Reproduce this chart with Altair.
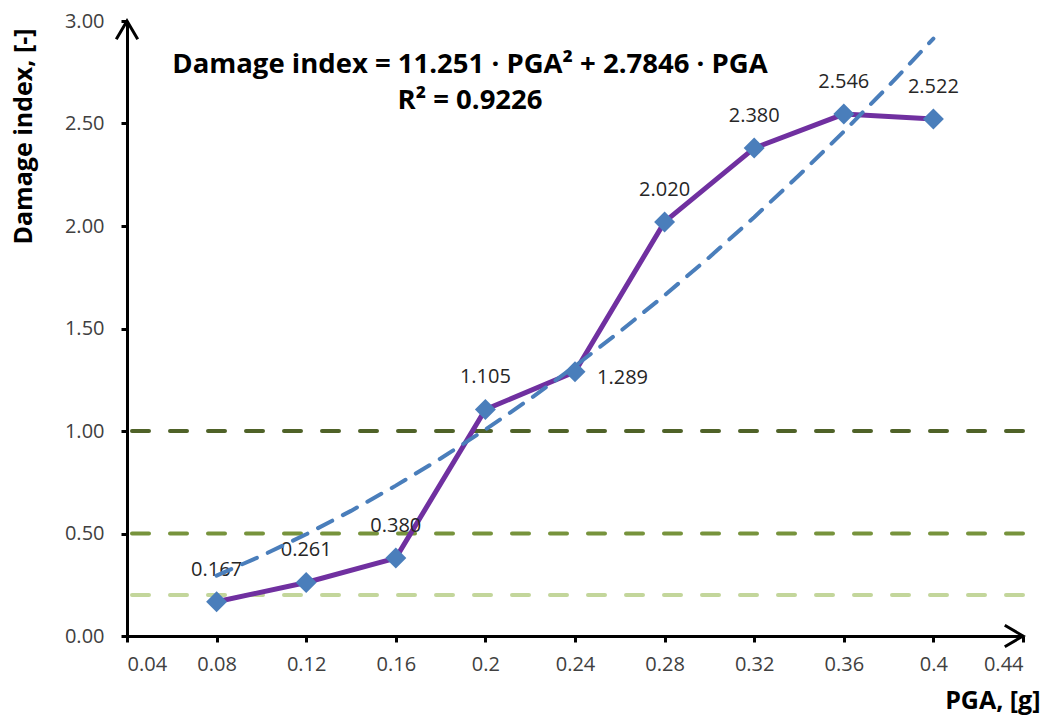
import altair as alt
import pandas as pd

pga = [0.08, 0.12, 0.16, 0.20, 0.24, 0.28, 0.32, 0.36, 0.40]
damage = [0.167, 0.261, 0.380, 1.105, 1.289, 2.020, 2.380, 2.546, 2.522]
labels = ["0.167", "0.261", "0.380", "1.105", "1.289", "2.020", "2.380", "2.546", "2.522"]

trend_a = 11.251
trend_b = 2.7846
trend_x = [0.08, 0.10, 0.12, 0.14, 0.16, 0.18, 0.20, 0.22, 0.24, 0.26, 0.28, 0.30, 0.32, 0.34, 0.36, 0.38, 0.40]

limit_values = [1.0, 0.5, 0.2]
limit_colors = ["#4F6228", "#77933C", "#C3D69B"]

x_ticks = [0.04, 0.08, 0.12, 0.16, 0.20, 0.24, 0.28, 0.32, 0.36, 0.40, 0.44]
y_ticks = [0.0, 0.5, 1.0, 1.5, 2.0, 2.5, 3.0]

FONT = "Open Sans"

df = pd.DataFrame({"pga": pga, "di": damage, "label": labels})
trend_df = pd.DataFrame({"pga": trend_x, "di": [trend_a * x * x + trend_b * x for x in trend_x]})
lim_df = pd.DataFrame({"v": limit_values, "c": limit_colors})

xs = alt.Scale(domain=[0.04, 0.44], nice=False, zero=False)
ys = alt.Scale(domain=[0, 3], nice=False)

x_axis = alt.Axis(values=x_ticks, format=".2~f", title="PGA, [g]", titleX=913, titleY=64,
                  titleAlign="right", titleBaseline="middle", titleAnchor="start", labelPadding=12)
y_axis = alt.Axis(values=y_ticks, format=".2f", title="Damage index, [-]", titleX=-104, titleY=115,
                  titleAngle=-90, titleAlign="center", titleBaseline="middle", titleAnchor="start",
                  labelPadding=17)

X = alt.X("pga:Q", scale=xs, axis=x_axis)
Y = alt.Y("di:Q", scale=ys, axis=y_axis)

base = alt.Chart(df)

rules = alt.Chart(lim_df).mark_rule(strokeWidth=4, strokeDash=[17, 21], strokeCap="round").encode(
    y=alt.Y("v:Q", scale=ys, axis=y_axis),
    color=alt.Color("c:N", scale=None, legend=None),
)

line = base.mark_line(color="#7030A0", strokeWidth=5).encode(x=X, y=Y)

pts = base.mark_point(shape="diamond", filled=True, size=440, color="#4A7EBB", opacity=1).encode(x=X, y=Y)

lbl_above = base.transform_filter("datum.pga < 0.235 || datum.pga > 0.245").mark_text(
    font=FONT, fontSize=20, color="#262626", dy=-32, align="center", baseline="middle"
).encode(x=X, y=Y, text="label:N")

lbl_right = base.transform_filter("datum.pga > 0.235 && datum.pga < 0.245").mark_text(
    font=FONT, fontSize=20, color="#262626", dx=22, dy=6, align="left", baseline="middle"
).encode(x=X, y=Y, text="label:N")

trend = alt.Chart(trend_df).mark_line(color="#4A7EBB", strokeWidth=4, strokeDash=[16, 12],
                                      strokeCap="round").encode(x=X, y=Y)

arrow_df = pd.DataFrame({"pga": [0.04, 0.44], "di": [3.0, 0.0], "dir": ["up", "right"]})
arrow_up = alt.Chart(arrow_df).transform_filter("datum.dir == 'up'").mark_point(
    shape="M-1,1.7L0,0L1,1.7", filled=False, stroke="black", strokeWidth=3, size=460, opacity=1
).encode(x=X, y=Y)
arrow_right = alt.Chart(arrow_df).transform_filter("datum.dir == 'right'").mark_point(
    shape="M-1.7,-1L0,0L-1.7,1", filled=False, stroke="black", strokeWidth=3, size=460, opacity=1
).encode(x=X, y=Y)

eq1 = alt.Chart(pd.DataFrame({"t": ["Damage index = 11.251 · PGA² + 2.7846 · PGA"]})).mark_text(
    font=FONT, fontSize=27.5, fontWeight="bold", color="black", align="center", baseline="middle"
).encode(x=alt.value(343), y=alt.value(44), text="t:N")
eq2 = alt.Chart(pd.DataFrame({"t": ["R² = 0.9226"]})).mark_text(
    font=FONT, fontSize=27.5, fontWeight="bold", color="black", align="center", baseline="middle"
).encode(x=alt.value(343), y=alt.value(80), text="t:N")

chart = alt.layer(rules, line, pts, lbl_above, lbl_right, trend, arrow_up, arrow_right, eq1, eq2).properties(
    width=896, height=615,
    padding={"left": 127, "top": 21, "right": 31, "bottom": 81},
    autosize=alt.AutoSizeParams(type="none"),
    background="white",
).configure_view(stroke=None).configure_axis(
    grid=False, domainColor="black", domainWidth=3, tickColor="black", tickWidth=3, tickSize=6,
    labelFontSize=20, labelColor="#404040", labelFont=FONT,
    titleFont=FONT, titleFontSize=25, titleFontWeight="bold", titleColor="black",
)

chart.save("out.html", embed_options={"renderer": "svg", "actions": False})
